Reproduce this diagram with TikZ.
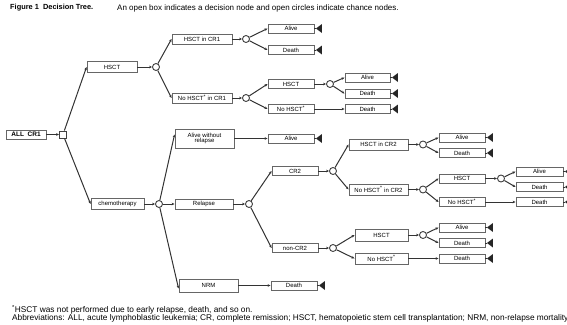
\documentclass[tikz,border=0pt]{standalone}
\usepackage{fontspec}
\setmainfont{Liberation Sans}
\usetikzlibrary{arrows.meta}
\newcommand\termtri[1]{%
  \draw[line]  (#1.east) -- ++(2,0);
  \fill[black!85] (#1.east) ++(1.5,0) -- ++(6,-4.5) -- ++(0,9) -- cycle;}
\begin{document}
\begin{tikzpicture}[x=1pt,y=-1pt,
  line/.style={draw=black!80, line width=1pt},
  box/.style={draw=black!60, line width=0.9pt, fill=white, minimum height=9pt,
    minimum width=46pt, inner sep=0pt, font=\fontsize{6}{6.5}\selectfont},
  chance/.style={circle, draw=black!75, line width=0.9pt, fill=white,
    minimum size=7pt, inner sep=0pt},
  decision/.style={rectangle, draw=black!75, line width=0.9pt, fill=white,
    minimum size=7pt, inner sep=0pt},
  conn/.style={line, -{Stealth[length=3pt,width=2.6pt]}},
  txt/.style={anchor=west, inner sep=0pt}
]
\useasboundingbox (0,0) rectangle (567,324);
% title
\node[txt, font=\bfseries\fontsize{7.4}{8}\selectfont] (title) at (10,8) {Figure 1~~Decision Tree.};
\node[txt, font=\fontsize{8}{8.5}\selectfont] (sub) at (117,8) {An open box indicates a decision node and open circles indicate chance nodes.};
% root
\node[box, minimum width=40pt, font=\bfseries\fontsize{6.5}{7}\selectfont] (all) at (26,134.5) {ALL~~CR1};
\node[decision] (d0) at (63,134.5) {};
\draw[conn] (all) -- (d0);
% level 1
\node[box, minimum width=50pt, minimum height=11pt] (hsct) at (112,67) {HSCT};
\node[box, minimum width=53pt, minimum height=11pt] (chemo) at (117.5,204) {chemotherapy};
\draw[conn] (d0) -- (hsct.west);
\draw[conn] (d0) -- (chemo.west);
\node[chance] (c1) at (156,67) {};
\node[chance] (c2) at (159,204) {};
\draw[conn] (hsct) -- (c1);
\draw[conn] (chemo) -- (c2);
% HSCT branch
\node[box, minimum width=60pt, minimum height=10pt] (hcr1) at (202,39) {HSCT in CR1};
\node[box, minimum width=60pt, minimum height=10pt] (nhcr1) at (202,98) {No HSCT\textsuperscript{*} in CR1};
\draw[conn] (c1) -- (hcr1.west);
\draw[conn] (c1) -- (nhcr1.west);
\node[chance] (c3) at (246,39) {};
\node[chance] (c4) at (246,98) {};
\draw[conn] (hcr1) -- (c3);
\draw[conn] (nhcr1) -- (c4);
\node[box] (a1) at (291,28.5) {Alive};
\node[box] (d1) at (291,50) {Death};
\draw[conn] (c3) -- (a1.west);
\draw[conn] (c3) -- (d1.west);
\node[box] (h2) at (291,84) {HSCT};
\node[box] (nh2) at (291,109) {No HSCT\textsuperscript{*}};
\draw[conn] (c4) -- (h2.west);
\draw[conn] (c4) -- (nh2.west);
\node[chance] (c5) at (330,84) {};
\draw[conn] (h2) -- (c5);
\node[box, minimum width=45pt] (a2) at (367.5,77.5) {Alive};
\node[box, minimum width=45pt] (d2) at (367.5,93.5) {Death};
\node[box, minimum width=45pt] (d3) at (367.5,109) {Death};
\draw[conn] (c5) -- (a2.west);
\draw[conn] (c5) -- (d2.west);
\draw[conn] (nh2) -- (d3);
% chemotherapy branch
\node[box, minimum width=59pt, minimum height=19pt, align=center] (awr) at (204.5,138.5) {Alive without\\[-1pt]relapse};
\node[box, minimum width=58pt, minimum height=10pt] (rel) at (204,204) {Relapse};
\node[box, minimum width=59pt, minimum height=13pt] (nrm) at (208.5,285.5) {NRM};
\draw[conn] (c2) -- ([yshift=4pt]awr.west);
\draw[conn] (c2) -- (rel);
\draw[conn] (c2) -- ([yshift=-3pt]nrm.west);
\node[box] (a3) at (291,138.5) {Alive};
\draw[conn] (awr) -- (a3);
\node[box] (d4) at (294,285.5) {Death};
\draw[conn] (nrm) -- (d4);
\node[chance] (c6) at (249,204) {};
\draw[conn] (rel) -- (c6);
\node[box] (cr2) at (295,171) {CR2};
\node[box] (ncr2) at (295,248) {non-CR2};
\draw[conn] (c6) -- (cr2.west);
\draw[conn] (c6) -- (ncr2.west);
\node[chance] (c7) at (333,171) {};
\node[chance] (c8) at (333,248) {};
\draw[conn] (cr2) -- (c7);
\draw[conn] (ncr2) -- (c8);
% CR2
\node[box, minimum width=59pt, minimum height=11pt] (hcr2) at (378.5,144.5) {HSCT in CR2};
\node[box, minimum width=59pt, minimum height=11pt] (nhcr2) at (378.5,189.5) {No HSCT\textsuperscript{*} in CR2};
\draw[conn] (c7) -- (hcr2.west);
\draw[conn] (c7) -- (nhcr2.west);
\node[chance] (c9) at (423,144.5) {};
\node[chance] (c10) at (423,189.5) {};
\draw[conn] (hcr2) -- (c9);
\draw[conn] (nhcr2) -- (c10);
\node[box] (a5) at (462,137.5) {Alive};
\node[box] (d5) at (462,153) {Death};
\draw[conn] (c9) -- (a5.west);
\draw[conn] (c9) -- (d5.west);
\node[box] (h3) at (462,178.5) {HSCT};
\node[box] (nh3) at (462,202) {No HSCT\textsuperscript{*}};
\draw[conn] (c10) -- (h3.west);
\draw[conn] (c10) -- (nh3.west);
\node[chance] (c11) at (501,178.5) {};
\draw[conn] (h3) -- (c11);
\node[box, minimum width=47pt] (a6) at (539.5,171.5) {Alive};
\node[box, minimum width=47pt] (d6) at (539.5,187) {Death};
\node[box, minimum width=47pt] (d7) at (539.5,202) {Death};
\draw[conn] (c11) -- (a6.west);
\draw[conn] (c11) -- (d6.west);
\draw[conn] (nh3) -- (d7);
% non-CR2
\node[box, minimum width=53pt, minimum height=12pt] (h4) at (381.5,235) {HSCT};
\node[box, minimum width=53pt, minimum height=11pt] (nh4) at (381.5,258.5) {No HSCT\textsuperscript{*}};
\draw[conn] (c8) -- (h4.west);
\draw[conn] (c8) -- (nh4.west);
\node[chance] (c12) at (423,235) {};
\draw[conn] (h4) -- (c12);
\node[box] (a7) at (462,227.5) {Alive};
\node[box] (d8) at (462,243) {Death};
\node[box] (d9) at (462,258.5) {Death};
\draw[conn] (c12) -- (a7.west);
\draw[conn] (c12) -- (d8.west);
\draw[conn] (nh4) -- (d9);
% terminal markers
\foreach \t in {a1,d1,a2,d2,d3,a3,d4,a5,d5,a6,d6,d7,a7,d8,d9}{\termtri{\t}}
% footnotes
\node[txt, font=\fontsize{8.3}{9}\selectfont] (fn1) at (12,310) {\textsuperscript{*}HSCT was not performed due to early relapse, death, and so on.};
\node[txt, font=\fontsize{8.3}{9}\selectfont] (fn2) at (12,318.5) {Abbreviations: ALL, acute lymphoblastic leukemia; CR, complete remission; HSCT, hematopoietic stem cell transplantation; NRM, non-relapse mortality};
\end{tikzpicture}
\end{document}
